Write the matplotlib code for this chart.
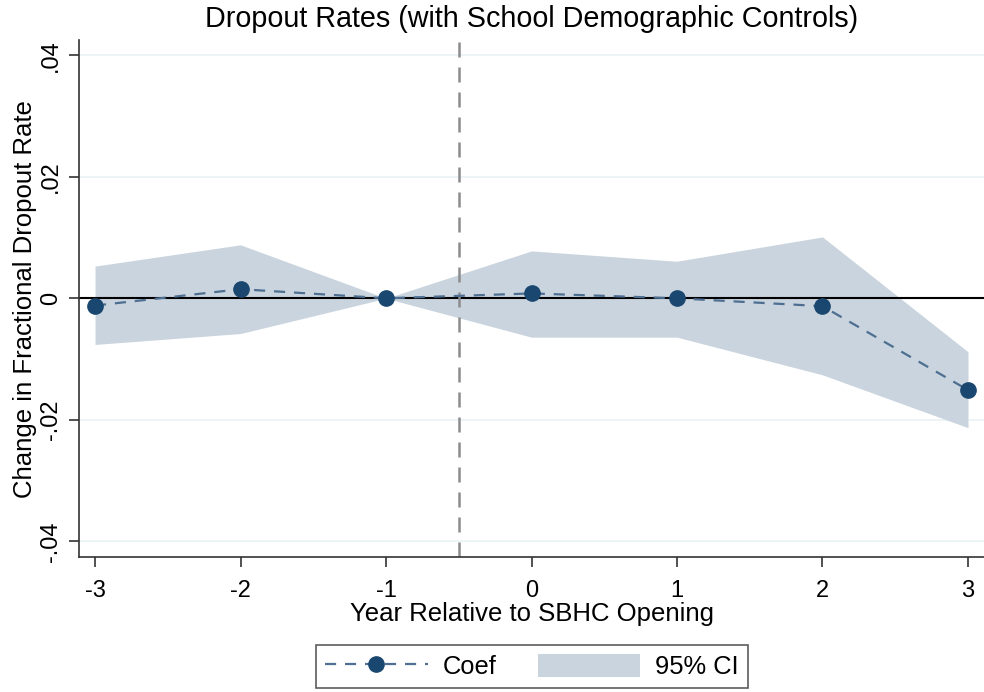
import matplotlib
matplotlib.use("Agg")
import matplotlib.pyplot as plt
from matplotlib.lines import Line2D
from matplotlib.patches import Patch

plt.rcParams['font.family'] = ['Liberation Sans', 'DejaVu Sans']

years = [-3, -2, -1, 0, 1, 2, 3]
coef = [-0.0012, 0.0015, 0.0, 0.0008, 0.0, -0.0013, -0.0151]
ci_upper = [0.0053, 0.0088, 0.0, 0.0078, 0.0061, 0.0101, -0.0088]
ci_lower = [-0.0076, -0.0058, 0.0, -0.0064, -0.0064, -0.0126, -0.0213]
yticks = [-0.04, -0.02, 0, 0.02, 0.04]
ytick_labels = ['-.04', '-.02', '0', '.02', '.04']
xticks = [-3, -2, -1, 0, 1, 2, 3]
xtick_labels = ['-3', '-2', '-1', '0', '1', '2', '3']

navy = '#1a476f'
fill_c = '#c9d4de'
line_c = '#4e6f91'

fig = plt.figure(figsize=(9.84, 6.92), dpi=100)
ax = fig.add_axes([0.0803, 0.195, 0.9197, 0.747])

for t in yticks:
    if t != 0:
        ax.axhline(t, color='#eaf2f3', lw=1.2, zorder=0)

ax.fill_between(years, ci_lower, ci_upper, color=fill_c, lw=0, zorder=1)
ax.axhline(0, color='black', lw=1.5, zorder=2)
ax.axvline(-0.5, color='#8c8c8c', lw=1.8, ls=(0, (6, 4)), zorder=2)
ax.plot(years, coef, color=line_c, lw=1.6, ls=(0, (5, 4)), zorder=3)
ax.plot(years, coef, ls='none', marker='o', ms=11, color=navy, zorder=4)

ax.set_xlim(-3.11, 3.11)
ax.set_ylim(-0.0426, 0.0425)
ax.set_yticks(yticks)
ax.set_yticklabels(ytick_labels, rotation=90, va='center', fontsize=17)
ax.set_xticks(xticks)
ax.set_xticklabels(xtick_labels, fontsize=17)
ax.tick_params(axis='both', length=7.5, width=1.2, color='#333333')
ax.tick_params(axis='y', pad=5)
ax.tick_params(axis='x', pad=9)

for s in ['top', 'right']:
    ax.spines[s].set_visible(False)
for s in ['left', 'bottom']:
    ax.spines[s].set_linewidth(1.2)
    ax.spines[s].set_color('#333333')

ax.set_ylabel('Change in Fractional Dropout Rate', fontsize=18.5, labelpad=2)
ax.set_xlabel('Year Relative to SBHC Opening', fontsize=18.5, labelpad=0)
fig.text(0.54, 0.973, 'Dropout Rates (with School Demographic Controls)',
         ha='center', va='center', fontsize=20.7)

handles = [
    Line2D([0], [0], color=line_c, lw=1.6, ls=(0, (5, 4)),
           marker='o', ms=11, markerfacecolor=navy, markeredgecolor=navy),
    Patch(facecolor=fill_c, edgecolor='none'),
]
leg = fig.legend(handles, ['Coef', '95% CI'], loc='center',
                 bbox_to_anchor=(0.5407, 0.0368), ncol=2, fontsize=18.4,
                 frameon=True, fancybox=False, edgecolor='#333333',
                 handlelength=4.0, handleheight=1.0, columnspacing=1.6,
                 handletextpad=0.6, borderpad=0.35)
leg.get_frame().set_linewidth(1.2)

fig.savefig('out.png', dpi=100)
